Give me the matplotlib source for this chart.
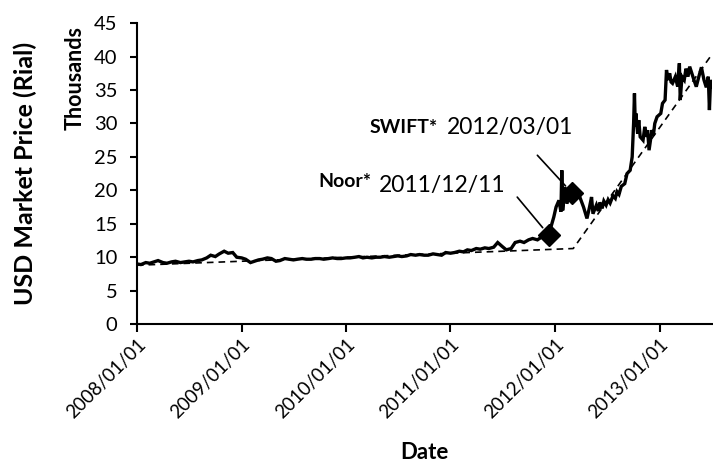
import matplotlib
matplotlib.use('Agg')
import matplotlib.pyplot as plt
import matplotlib.dates as mdates
import pandas as pd

plt.rcParams['font.family'] = ['Lato', 'DejaVu Sans']

# ---- data (thousand rials) ----
# semi-monthly readings for the quiet period 2008 - Nov 2011
flat_dates = pd.date_range('2008-01-01', '2011-11-15', freq='SMS')
flat_values = [
    9.0, 8.9, 9.2, 9.1, 9.3, 9.5, 9.2, 9.1, 9.3, 9.4, 9.2, 9.3,
    9.4, 9.3, 9.5, 9.6, 9.9, 10.3, 10.1, 10.5, 10.9, 10.6, 10.7, 10.0,
    9.9, 9.7, 9.2, 9.4, 9.6, 9.7, 9.9, 9.8, 9.4, 9.5, 9.8, 9.7,
    9.6, 9.7, 9.8, 9.7, 9.7, 9.8, 9.8, 9.7, 9.8, 9.9, 9.8, 9.8,
    9.9, 9.9, 10.0, 10.1, 9.9, 10.0, 9.9, 10.0, 10.0, 10.1, 10.0, 10.1,
    10.2, 10.1, 10.2, 10.4, 10.3, 10.4, 10.3, 10.3, 10.5, 10.4, 10.3, 10.7,
    10.6, 10.7, 10.9, 10.8, 11.1, 11.0, 11.3, 11.2, 11.4, 11.3, 11.5, 12.2,
    11.6, 11.1, 11.3, 12.2, 12.4, 12.2, 12.6, 12.8, 12.6, 13.0,
]

# irregular readings for the volatile period
vol_dates = [
    '2011-12-01', '2011-12-11', '2011-12-20', '2011-12-28', '2012-01-05',
    '2012-01-15', '2012-01-22', '2012-01-25', '2012-01-28', '2012-02-05',
    '2012-02-12', '2012-02-20', '2012-03-01', '2012-03-10', '2012-03-20',
    '2012-03-28', '2012-04-10', '2012-04-22', '2012-05-01', '2012-05-08',
    '2012-05-13', '2012-05-25', '2012-06-01', '2012-06-06', '2012-06-14',
    '2012-06-20', '2012-06-28', '2012-07-05', '2012-07-12', '2012-07-22',
    '2012-07-30', '2012-08-05', '2012-08-12', '2012-08-20', '2012-09-01',
    '2012-09-09', '2012-09-20', '2012-09-27', '2012-10-02', '2012-10-05',
    '2012-10-08', '2012-10-10', '2012-10-16', '2012-10-20', '2012-10-25',
    '2012-11-04', '2012-11-10', '2012-11-15', '2012-11-20', '2012-11-25',
    '2012-12-05', '2012-12-10', '2012-12-15', '2012-12-23', '2013-01-05',
    '2013-01-11', '2013-01-20', '2013-01-25', '2013-01-29', '2013-02-05',
    '2013-02-10', '2013-02-15', '2013-02-25', '2013-03-05', '2013-03-11',
    '2013-03-14', '2013-03-20', '2013-03-28', '2013-04-03', '2013-04-10',
    '2013-04-16', '2013-04-22', '2013-05-01', '2013-05-09', '2013-05-18',
    '2013-05-27', '2013-06-05', '2013-06-13', '2013-06-20', '2013-06-24',
    '2013-06-28', '2013-07-04',
]
vol_values = [
    13.1, 13.3, 14.8, 16.0, 17.5,
    18.5, 16.8, 23.0, 17.0, 20.5,
    18.0, 19.5, 19.6, 19.3, 19.8,
    19.0, 17.5, 15.8, 17.5, 19.0,
    16.5, 17.8, 16.9, 18.2, 17.3,
    18.4, 17.8, 18.6, 18.1, 19.2,
    18.8, 19.8, 19.4, 20.6, 21.0,
    22.5, 23.0, 25.0, 30.0, 34.5,
    29.5, 31.5, 28.5, 30.5, 28.0,
    27.5, 29.5, 28.0, 29.0, 26.0,
    29.0, 28.2, 30.0, 31.0, 31.5,
    33.0, 33.5, 38.0, 36.5, 37.5,
    36.2, 36.0, 37.0, 35.5, 39.0,
    33.5, 37.0, 36.5, 38.2, 37.0,
    38.5, 37.7, 36.5, 35.5, 37.0,
    38.4, 36.5, 35.4, 37.0, 32.0,
    36.5, 35.5,
]

# piecewise trend line
trend_dates = ['2008-01-01', '2012-03-05', '2013-07-04']
trend_values = [8.8, 11.3, 40.4]

# events
event_names = ['Noor*', 'SWIFT*']
event_dates = ['2011-12-11', '2012-03-01']
event_values = [13.3, 19.6]

dates = list(flat_dates) + list(pd.to_datetime(vol_dates))
values = flat_values + vol_values

fig = plt.figure(figsize=(7.13, 4.63), dpi=100)
ax = fig.add_axes([0.192, 0.300, 0.807, 0.650])

ax.plot(dates, values, color='black', linewidth=2.4, solid_joinstyle='miter')
ax.plot(pd.to_datetime(trend_dates), trend_values, color='black',
        linewidth=1.2, linestyle=(0, (4, 3)))
ax.plot(pd.to_datetime(event_dates), event_values, linestyle='none',
        marker='D', markersize=11, color='black')

# annotation leader lines and labels
ax.annotate('', xy=(pd.Timestamp(event_dates[0]), event_values[0]),
            xytext=(0.661, 0.422), textcoords='axes fraction',
            arrowprops=dict(arrowstyle='-', color='black', lw=1.2,
                            shrinkA=0, shrinkB=7))
ax.annotate('', xy=(pd.Timestamp(event_dates[1]), event_values[1]),
            xytext=(0.696, 0.561), textcoords='axes fraction',
            arrowprops=dict(arrowstyle='-', color='black', lw=1.2,
                            shrinkA=0, shrinkB=7))

ax.text(0.408, 0.475, event_names[0], transform=ax.transAxes, ha='right',
        va='center', fontsize=14, fontweight='bold')
ax.text(0.421, 0.460, '2011/12/11', transform=ax.transAxes, ha='left',
        va='center', fontsize=16.5)
ax.text(0.523, 0.652, event_names[1], transform=ax.transAxes, ha='right',
        va='center', fontsize=14, fontweight='bold')
ax.text(0.538, 0.652, '2012/03/01', transform=ax.transAxes, ha='left',
        va='center', fontsize=16.5)

# axes styling
ax.set_xlim(pd.Timestamp('2008-01-01'), pd.Timestamp('2013-07-04'))
ax.set_ylim(0, 45)
ax.set_yticks(range(0, 46, 5))
ax.xaxis.set_major_locator(mdates.YearLocator())
ax.xaxis.set_major_formatter(mdates.DateFormatter('%Y/%m/%d'))
for s in ['top', 'right']:
    ax.spines[s].set_visible(False)
for s in ['left', 'bottom']:
    ax.spines[s].set_linewidth(1.5)
ax.tick_params(axis='y', direction='out', width=1.5, labelsize=14.5,
               length=5, pad=9)
ax.tick_params(axis='x', direction='out', width=1.5, labelsize=13.5,
               length=6, pad=2)
for lab in ax.get_xticklabels():
    lab.set_rotation(45)
    lab.set_ha('right')
    lab.set_va('top')
    lab.set_rotation_mode('anchor')

ax.set_xlabel('Date', fontsize=16, fontweight='bold')
ax.xaxis.set_label_coords(0.5, -0.425)
ax.xaxis.label.set_va('center')
ax.set_ylabel('USD Market Price (Rial)', fontsize=18, fontweight='bold')
ax.yaxis.set_label_coords(-0.194, 0.5)
ax.yaxis.label.set_va('center')
fig.text(0.105, 0.832, 'Thousands', rotation=90, ha='center', va='center',
         fontsize=15.5, fontweight='bold')

fig.savefig('out.png', dpi=100)
